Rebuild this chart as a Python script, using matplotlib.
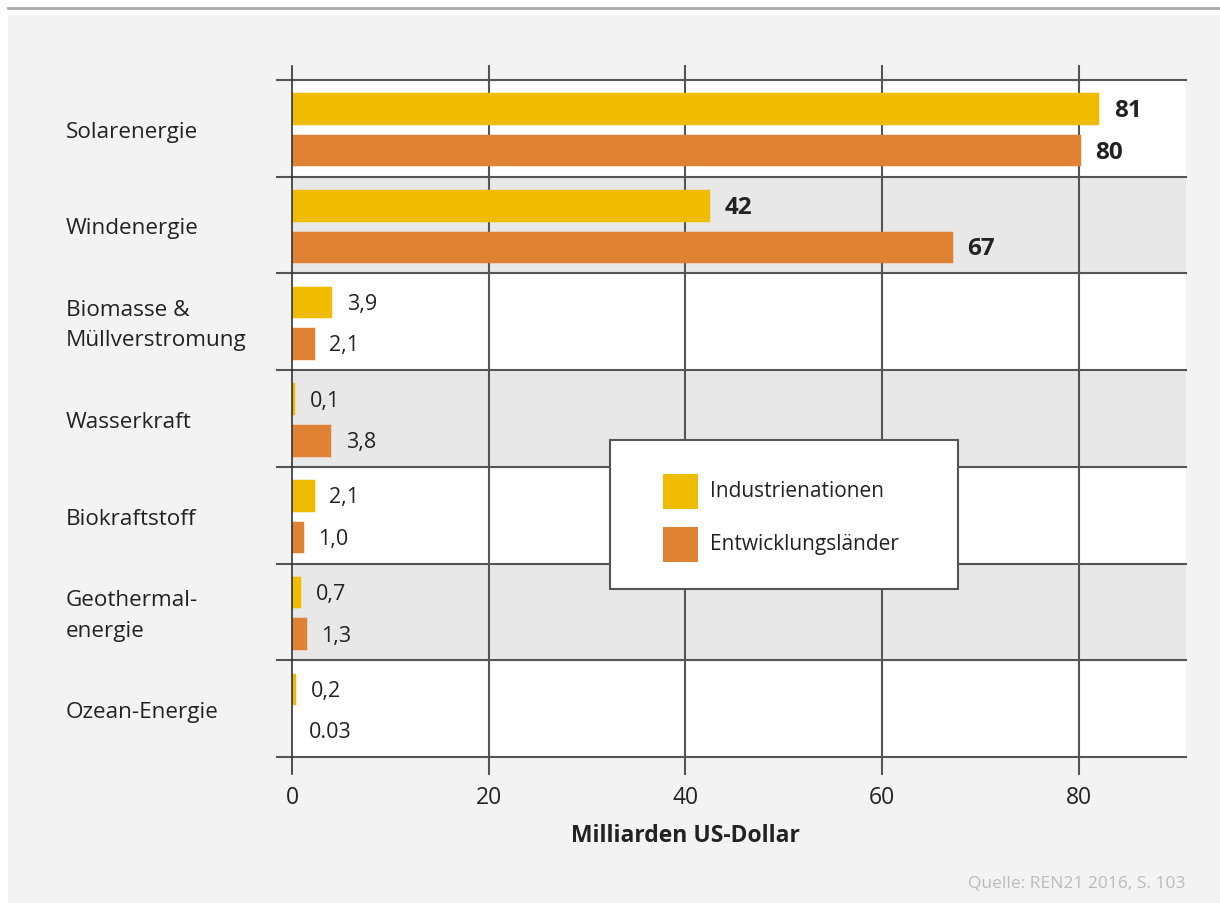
import matplotlib
matplotlib.use('Agg')
from matplotlib import pyplot as plt
from matplotlib.patches import Rectangle
from matplotlib.lines import Line2D

plt.rcParams['font.family'] = ['Open Sans', 'DejaVu Sans']

categories = ["Solarenergie", "Windenergie", "Biomasse &\nMüllverstromung", "Wasserkraft",
              "Biokraftstoff", "Geothermal-\nenergie", "Ozean-Energie"]
industrie = [81.9, 42.3, 3.9, 0.1, 2.1, 0.7, 0.2]
entwicklung = [80, 67, 2.1, 3.8, 1.0, 1.3, 0.03]
industrie_labels = ["81", "42", "3,9", "0,1", "2,1", "0,7", "0,2"]
entwicklung_labels = ["80", "67", "2,1", "3,8", "1,0", "1,3", "0.03"]
bold_rows = [0, 1]
xticks = [0, 20, 40, 60, 80]

c_ind = '#F0BC00'
c_ent = '#E08233'
c_grid = '#555555'
c_text = '#222222'

fig = plt.figure(figsize=(12.2, 9.04), dpi=100, facecolor='white')
fig.patches.append(Rectangle((8 / 1220, 0), 1, (904 - 16) / 904, transform=fig.transFigure,
                             facecolor='#F3F3F3', edgecolor='none', zorder=-1))
fig.lines.append(Line2D([8 / 1220, 1], [(904 - 9) / 904] * 2, transform=fig.transFigure,
                        color='#AAAAAA', linewidth=2))

ax_w, ax_h = 1186 - 292, 758 - 81
ax = fig.add_axes([292 / 1220, (904 - 758) / 904, ax_w / 1220, ax_h / 904])
ax.set_facecolor('white')
n = len(categories)
ax.set_xlim(0, 90.9)
ax.set_ylim(n - 0.5, -0.5)

for i in range(n):
    if i % 2 == 1:
        ax.axhspan(i - 0.5, i + 0.5, color='#E8E8E8', zorder=0)

pos = list(range(n))
off_i, off_e, h = -0.205, 0.225, 0.295
# tiny values (< 0.05) get no edge so they stay invisible, as in the original
lw_i = [2.5 if v >= 0.05 else 0 for v in industrie]
lw_e = [2.5 if v >= 0.05 else 0 for v in entwicklung]
ax.barh([p + off_i for p in pos], industrie, height=h, color=c_ind, edgecolor=c_ind,
        linewidth=lw_i, zorder=2)
ax.barh([p + off_e for p in pos], entwicklung, height=h, color=c_ent, edgecolor=c_ent,
        linewidth=lw_e, zorder=2)

for i in range(n):
    w = 'bold' if i in bold_rows else 'normal'
    fs = 17.5 if i in bold_rows else 15.5
    ax.annotate(industrie_labels[i], (industrie[i], i + off_i), xytext=(12, -1),
                textcoords='offset points', va='center', ha='left', fontsize=fs,
                fontweight=w, color=c_text)
    ax.annotate(entwicklung_labels[i], (entwicklung[i], i + off_e), xytext=(12, -1),
                textcoords='offset points', va='center', ha='left', fontsize=fs,
                fontweight=w, color=c_text)

# grid lines, extended past the plot area like ticks
xt = ax.get_xaxis_transform()
yt = ax.get_yaxis_transform()
for x in xticks[1:]:
    ax.plot([x, x], [-17 / ax_h, 1 + 14 / ax_h], transform=xt, color=c_grid,
            linewidth=1.5, zorder=1, clip_on=False)
for b in range(n + 1):
    ax.plot([-15 / ax_w, 1], [b - 0.5, b - 0.5], transform=yt, color=c_grid,
            linewidth=1.5, zorder=3, clip_on=False)
ax.plot([0, 0], [-17 / ax_h, 1 + 14 / ax_h], transform=xt, color='#333333',
        linewidth=1.2, zorder=4, clip_on=False)

for s in ax.spines.values():
    s.set_visible(False)

ax.set_xticks(xticks)
ax.set_xticklabels([str(x) for x in xticks], fontsize=16.5, color=c_text)
ax.tick_params(axis='x', length=0, pad=20)
ax.set_yticks([])

for i, c in enumerate(categories):
    ax.text(-226 / 9.83, i + 0.03, c, ha='left', va='center', fontsize=16.2, color=c_text,
            linespacing=1.6)

ax.text(40, n - 0.5 + 0.81, "Milliarden US-Dollar", ha='center', va='center',
        fontsize=16.5, fontweight='bold', color=c_text)

fig.text(1186 / 1220, 1 - 884 / 904, "Quelle: REN21 2016, S. 103", ha='right', va='center',
         fontsize=12.5, color='#BBBBBB')

# legend box
lx0, lx1 = 610 / 1220, 958 / 1220
ly0, ly1 = 1 - 590 / 904, 1 - 441 / 904
fig.patches.append(Rectangle((lx0, ly0), lx1 - lx0, ly1 - ly0, transform=fig.transFigure,
                             facecolor='white', edgecolor=c_grid, linewidth=1.5, zorder=5))
for y, col, lab in [(492, c_ind, "Industrienationen"), (545, c_ent, "Entwicklungsländer")]:
    fig.patches.append(Rectangle((663 / 1220, 1 - (y + 17.5) / 904), 35 / 1220, 35 / 904,
                                 transform=fig.transFigure, facecolor=col, edgecolor='none',
                                 zorder=6))
    fig.text(710 / 1220, 1 - y / 904, lab, ha='left', va='center', fontsize=15,
             color=c_text, zorder=7)

plt.savefig('out.png', dpi=100, facecolor=fig.get_facecolor())
plt.close()
